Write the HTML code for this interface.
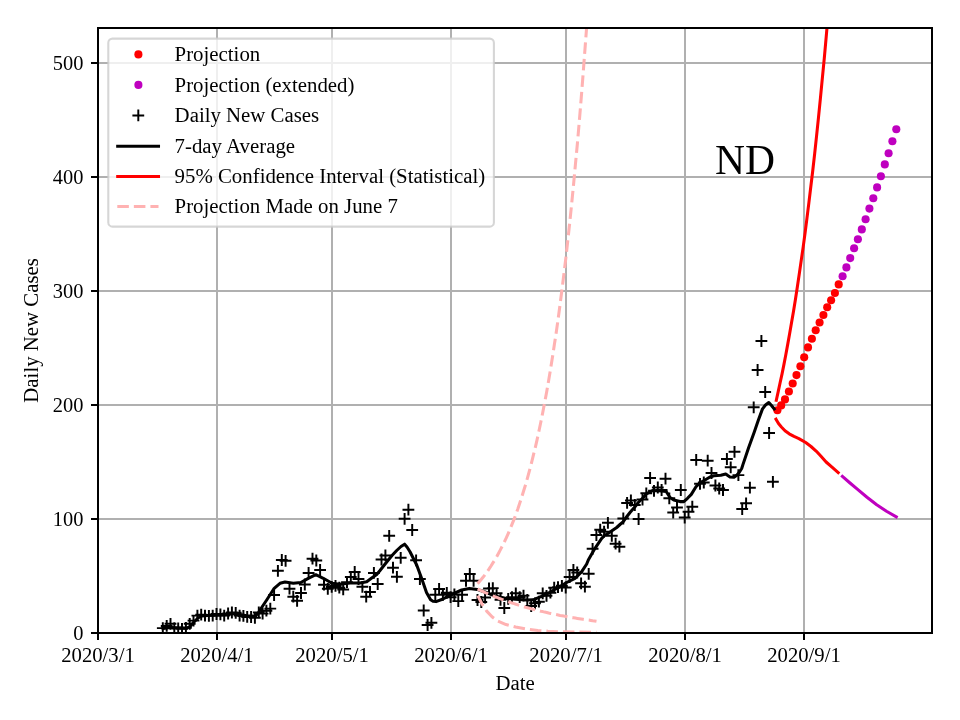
<!DOCTYPE html>
<html lang="en"><head><meta charset="utf-8"><title>ND Daily New Cases</title>
<style>html,body{margin:0;padding:0;background:#fff;overflow:hidden}svg{display:block}text{font-family:"Liberation Serif","Times New Roman",Times,serif;fill:#000}</style></head><body>
<svg width="960" height="720" viewBox="0 0 960 720">
<rect x="0" y="0" width="960" height="720" fill="#fff"/>
<g stroke="#b0b0b0" stroke-width="2" fill="none">
<line x1="98" y1="28" x2="98" y2="633"/>
<line x1="217" y1="28" x2="217" y2="633"/>
<line x1="332" y1="28" x2="332" y2="633"/>
<line x1="451" y1="28" x2="451" y2="633"/>
<line x1="566" y1="28" x2="566" y2="633"/>
<line x1="685" y1="28" x2="685" y2="633"/>
<line x1="804" y1="28" x2="804" y2="633"/>
<line x1="98" y1="633" x2="932" y2="633"/>
<line x1="98" y1="519" x2="932" y2="519"/>
<line x1="98" y1="405" x2="932" y2="405"/>
<line x1="98" y1="291" x2="932" y2="291"/>
<line x1="98" y1="177" x2="932" y2="177"/>
<line x1="98" y1="63" x2="932" y2="63"/>
</g>
<clipPath id="ax"><rect x="98" y="28" width="834" height="605"/></clipPath>
<g clip-path="url(#ax)">
<g fill="#ff0000">
<circle cx="777.4" cy="410.3" r="4.05"/>
<circle cx="781.2" cy="405.4" r="4.05"/>
<circle cx="785.0" cy="399.4" r="4.05"/>
<circle cx="788.9" cy="391.5" r="4.05"/>
<circle cx="792.7" cy="383.5" r="4.05"/>
<circle cx="796.5" cy="375.1" r="4.05"/>
<circle cx="800.4" cy="366.25" r="4.05"/>
<circle cx="804.2" cy="357.2" r="4.05"/>
<circle cx="808.0" cy="347.4" r="4.05"/>
<circle cx="811.9" cy="338.8" r="4.05"/>
<circle cx="815.7" cy="330.3" r="4.05"/>
<circle cx="819.6" cy="322.5" r="4.05"/>
<circle cx="823.4" cy="315.0" r="4.05"/>
<circle cx="827.2" cy="307.3" r="4.05"/>
<circle cx="831.1" cy="300.2" r="4.05"/>
<circle cx="834.9" cy="293.0" r="4.05"/>
<circle cx="838.7" cy="284.4" r="4.05"/>
</g><g fill="#bf00bf">
<circle cx="842.6" cy="276.2" r="4.05"/>
<circle cx="846.4" cy="267.4" r="4.05"/>
<circle cx="850.2" cy="258.1" r="4.05"/>
<circle cx="854.1" cy="248.2" r="4.05"/>
<circle cx="857.9" cy="239.3" r="4.05"/>
<circle cx="861.8" cy="229.4" r="4.05"/>
<circle cx="865.6" cy="219.2" r="4.05"/>
<circle cx="869.4" cy="208.6" r="4.05"/>
<circle cx="873.3" cy="198.3" r="4.05"/>
<circle cx="877.1" cy="187.4" r="4.05"/>
<circle cx="880.9" cy="176.2" r="4.05"/>
<circle cx="884.8" cy="164.4" r="4.05"/>
<circle cx="888.6" cy="153.3" r="4.05"/>
<circle cx="892.4" cy="141.3" r="4.05"/>
<circle cx="896.3" cy="129.3" r="4.05"/>
</g>
<path d="M156.9 628.1h11.8M162.8 622.2v11.8M160.8 625.9h11.8M166.7 620.0v11.8M164.6 623.8h11.8M170.5 617.9v11.8M168.4 628.1h11.8M174.3 622.2v11.8M172.3 628.5h11.8M178.2 622.6v11.8M176.1 628.8h11.8M182.0 622.9v11.8M180.0 627.8h11.8M185.9 621.9v11.8M183.8 623.8h11.8M189.7 617.9v11.8M187.6 620.6h11.8M193.5 614.7v11.8M191.5 615.6h11.8M197.4 609.7v11.8M195.3 614.6h11.8M201.2 608.7v11.8M199.1 615.6h11.8M205.0 609.7v11.8M203.0 615.8h11.8M208.9 609.9v11.8M206.8 615.6h11.8M212.7 609.7v11.8M210.6 614.0h11.8M216.5 608.1v11.8M214.5 614.4h11.8M220.4 608.5v11.8M218.3 615.6h11.8M224.2 609.7v11.8M222.2 613.5h11.8M228.1 607.6v11.8M226.0 612.5h11.8M231.9 606.6v11.8M229.8 612.8h11.8M235.7 606.9v11.8M233.7 615.6h11.8M239.6 609.7v11.8M237.5 615.9h11.8M243.4 610.0v11.8M241.3 616.9h11.8M247.2 611.0v11.8M245.2 617.0h11.8M251.1 611.1v11.8M249.0 617.8h11.8M254.9 611.9v11.8M252.9 612.5h11.8M258.8 606.6v11.8M256.7 613.6h11.8M262.6 607.7v11.8M260.5 610.7h11.8M266.4 604.8v11.8M264.4 608.6h11.8M270.3 602.7v11.8M268.2 595.0h11.8M274.1 589.1v11.8M272.0 570.8h11.8M277.9 564.9v11.8M275.9 560.0h11.8M281.8 554.1v11.8M279.7 560.8h11.8M285.6 554.9v11.8M283.6 588.7h11.8M289.5 582.8v11.8M287.4 596.7h11.8M293.3 590.8v11.8M291.2 600.8h11.8M297.1 594.9v11.8M295.1 593.0h11.8M301.0 587.1v11.8M298.9 584.5h11.8M304.8 578.6v11.8M302.7 573.0h11.8M308.6 567.1v11.8M306.6 558.7h11.8M312.5 552.8v11.8M310.4 560.5h11.8M316.3 554.6v11.8M314.2 570.0h11.8M320.1 564.1v11.8M318.1 584.7h11.8M324.0 578.8v11.8M321.9 588.8h11.8M327.8 582.9v11.8M325.8 586.9h11.8M331.7 581.0v11.8M329.6 585.8h11.8M335.5 579.9v11.8M333.4 587.7h11.8M339.3 581.8v11.8M337.3 589.4h11.8M343.2 583.5v11.8M341.1 582.1h11.8M347.0 576.2v11.8M344.9 576.9h11.8M350.8 571.0v11.8M348.8 571.9h11.8M354.7 566.0v11.8M352.6 579.0h11.8M358.5 573.1v11.8M356.5 586.8h11.8M362.4 580.9v11.8M360.3 596.7h11.8M366.2 590.8v11.8M364.1 591.9h11.8M370.0 586.0v11.8M368.0 572.9h11.8M373.9 567.0v11.8M371.8 584.0h11.8M377.7 578.1v11.8M375.6 559.5h11.8M381.5 553.6v11.8M379.5 555.4h11.8M385.4 549.5v11.8M383.3 535.8h11.8M389.2 529.9v11.8M387.1 567.7h11.8M393.0 561.8v11.8M391.0 576.8h11.8M396.9 570.9v11.8M394.8 557.8h11.8M400.7 551.9v11.8M398.7 518.8h11.8M404.6 512.9v11.8M402.5 509.7h11.8M408.4 503.8v11.8M406.3 530.0h11.8M412.2 524.1v11.8M410.2 560.3h11.8M416.1 554.4v11.8M414.0 579.0h11.8M419.9 573.1v11.8M417.8 610.5h11.8M423.7 604.6v11.8M421.7 625.0h11.8M427.6 619.1v11.8M425.5 622.8h11.8M431.4 616.9v11.8M429.4 594.8h11.8M435.3 588.9v11.8M433.2 588.9h11.8M439.1 583.0v11.8M437.0 594.8h11.8M442.9 588.9v11.8M440.9 592.8h11.8M446.8 586.9v11.8M444.7 597.2h11.8M450.6 591.3v11.8M448.5 594.4h11.8M454.4 588.5v11.8M452.4 601.1h11.8M458.3 595.2v11.8M456.2 594.8h11.8M462.1 588.9v11.8M460.1 580.8h11.8M466.0 574.9v11.8M463.9 573.9h11.8M469.8 568.0v11.8M467.7 580.8h11.8M473.6 574.9v11.8M471.6 600.0h11.8M477.5 594.1v11.8M475.4 602.0h11.8M481.3 596.1v11.8M479.2 597.5h11.8M485.1 591.6v11.8M483.1 588.5h11.8M489.0 582.6v11.8M486.9 588.1h11.8M492.8 582.2v11.8M490.7 593.3h11.8M496.6 587.4v11.8M494.6 599.8h11.8M500.5 593.9v11.8M498.4 608.0h11.8M504.3 602.1v11.8M502.3 598.9h11.8M508.2 593.0v11.8M506.1 597.2h11.8M512.0 591.3v11.8M509.9 593.3h11.8M515.8 587.4v11.8M513.8 597.2h11.8M519.7 591.3v11.8M517.6 595.6h11.8M523.5 589.7v11.8M521.4 600.0h11.8M527.3 594.1v11.8M525.3 606.0h11.8M531.2 600.1v11.8M529.1 603.3h11.8M535.0 597.4v11.8M533.0 601.7h11.8M538.9 595.8v11.8M536.8 593.3h11.8M542.7 587.4v11.8M540.6 595.8h11.8M546.5 589.9v11.8M544.5 592.7h11.8M550.4 586.8v11.8M548.3 587.7h11.8M554.2 581.8v11.8M552.1 587.2h11.8M558.0 581.3v11.8M556.0 585.8h11.8M561.9 579.9v11.8M559.8 587.5h11.8M565.7 581.6v11.8M563.7 577.0h11.8M569.6 571.1v11.8M567.5 570.0h11.8M573.4 564.1v11.8M571.3 572.5h11.8M577.2 566.6v11.8M575.2 583.3h11.8M581.1 577.4v11.8M579.0 586.7h11.8M584.9 580.8v11.8M582.8 573.8h11.8M588.7 567.9v11.8M586.7 548.8h11.8M592.6 542.9v11.8M590.5 535.0h11.8M596.4 529.1v11.8M594.3 529.7h11.8M600.2 523.8v11.8M598.2 531.7h11.8M604.1 525.8v11.8M602.0 522.8h11.8M607.9 516.9v11.8M605.9 535.8h11.8M611.8 529.9v11.8M609.7 543.7h11.8M615.6 537.8v11.8M613.5 546.7h11.8M619.4 540.8v11.8M617.4 518.5h11.8M623.3 512.6v11.8M621.2 502.9h11.8M627.1 497.0v11.8M625.0 500.5h11.8M630.9 494.6v11.8M628.9 505.0h11.8M634.8 499.1v11.8M632.7 519.0h11.8M638.6 513.1v11.8M636.6 499.5h11.8M642.5 493.6v11.8M640.4 493.3h11.8M646.3 487.4v11.8M644.2 478.0h11.8M650.1 472.1v11.8M648.1 490.8h11.8M654.0 484.9v11.8M651.9 487.5h11.8M657.8 481.6v11.8M655.7 490.0h11.8M661.6 484.1v11.8M659.6 478.7h11.8M665.5 472.8v11.8M663.4 498.3h11.8M669.3 492.4v11.8M667.3 512.5h11.8M673.2 506.6v11.8M671.1 507.5h11.8M677.0 501.6v11.8M674.9 490.0h11.8M680.8 484.1v11.8M678.8 517.5h11.8M684.7 511.6v11.8M682.6 511.7h11.8M688.5 505.8v11.8M686.4 506.7h11.8M692.3 500.8v11.8M690.3 459.9h11.8M696.2 454.0v11.8M694.1 483.8h11.8M700.0 477.9v11.8M697.9 482.5h11.8M703.8 476.6v11.8M701.8 460.7h11.8M707.7 454.8v11.8M705.6 473.0h11.8M711.5 467.1v11.8M709.5 485.5h11.8M715.4 479.6v11.8M713.3 488.5h11.8M719.2 482.6v11.8M717.1 490.0h11.8M723.0 484.1v11.8M721.0 459.0h11.8M726.9 453.1v11.8M724.8 467.3h11.8M730.7 461.4v11.8M728.6 451.8h11.8M734.5 445.9v11.8M732.5 475.1h11.8M738.4 469.2v11.8M736.3 509.0h11.8M742.2 503.1v11.8M740.2 503.3h11.8M746.1 497.4v11.8M744.0 487.7h11.8M749.9 481.8v11.8M747.8 407.3h11.8M753.7 401.4v11.8M751.7 370.0h11.8M757.6 364.1v11.8M755.5 341.0h11.8M761.4 335.1v11.8M759.3 392.0h11.8M765.2 386.1v11.8M763.2 433.0h11.8M769.1 427.1v11.8M767.0 481.8h11.8M772.9 475.9v11.8" stroke="#000" stroke-width="1.95" fill="none" stroke-linecap="butt"/>
<polyline points="163,628.6 170,627.4 178,627.8 186,628.3 190,626.6 194,622 198,618 202,616 210,615.3 220,615 228,614.5 234,613.5 240,614.5 248,616 255,616 258,613.5 260,610 266.7,600 274.2,588.3 280,583.3 285,582 293.3,583.3 300.8,582.5 308.3,578.3 315.8,574.7 323.3,578.3 332,583.3 340,584.2 350,583 360,583 366.7,581.7 371.7,578 376.7,574.5 380,570.5 386.7,562 392,555.5 396.7,550.5 401,546.5 404.6,544.2 407,547 410,551.7 416.7,565 421.5,578 426.5,592.6 430.6,599.8 433,601.3 436,601.6 443,599 451.7,594.5 461.7,590 469.4,588.4 477.2,589.4 482,591 487.2,592.8 495,596 504.4,598 515,599.3 526.7,600 533,599.8 541,596.7 546,594.3 550,592.3 555,589.3 560,586.5 566.7,582.5 575,578.3 577.8,575.6 581.7,571.7 586.7,564 588.3,560 595,548.3 601.7,538.3 604.4,535.6 608.3,533.3 616.7,527.5 620,524.5 623.3,521.7 626.7,516.7 630,512.5 635,506.7 638.3,502.5 643.3,497.5 646.3,493.9 652.5,490.6 658.8,490.8 666.2,491.5 670,497.5 673.8,500 680,501.6 683.8,501.6 687.5,498.3 691.3,494.4 696.3,486.3 700,482.8 705,480 710,477 713.9,475.8 720.8,475.3 725.7,474 727.5,475.3 729.9,476.9 734,477.2 736.5,475.5 738.9,472.8 741.7,468.5 743,464.4 748.6,447.7 754.2,432.3 758.3,420.2 762.5,408.9 765.5,405 768.8,402.5 771.5,405.5 774.2,408.9" stroke="#000" stroke-width="3.05" fill="none" stroke-linejoin="round" stroke-linecap="square"/>
<polyline points="776.3,400.3 778.2,391.7 780.1,382.8 782.1,373.6 784.0,364.1 785.9,354.2 787.8,343.9 789.7,333.3 791.6,322.2 793.6,310.8 795.5,298.9 797.4,286.6 799.3,273.8 801.2,260.6 803.2,246.9 805.1,232.7 807.0,217.9 808.9,202.6 810.8,186.8 812.8,170.3 814.7,153.3 816.6,135.6 818.5,117.3 820.4,98.3 822.3,78.6 824.3,58.1 826.2,36.9 828.1,15.0 830.0,-7.8" stroke="#ff0000" stroke-width="3.05" fill="none" stroke-linejoin="round" stroke-linecap="square"/>
<polyline points="776,419.2 778.5,423.5 781.4,427 785,430.7 789.2,433.8 794,436.4 798.9,438.6 805.7,442.5 811,446.5 816.4,451.3 821,456.3 826.1,462 832,467.2 838.2,472.6" stroke="#ff0000" stroke-width="3.05" fill="none" stroke-linejoin="round" stroke-linecap="square"/>
<polyline points="842.4,476.4 850,483 857.3,489.2 867,497.2 876.7,504.8 886.5,511.2 896.3,516.9" stroke="#bf00bf" stroke-width="3.05" fill="none" stroke-linejoin="round" stroke-linecap="square"/>
<polyline points="477.6,583.8 479.5,581.5 481.4,579.2 483.4,576.8 485.3,574.3 487.2,571.6 489.1,568.9 491.0,566.0 492.9,562.9 494.9,559.8 496.8,556.5 498.7,553.0 500.6,549.4 502.5,545.7 504.5,541.7 506.4,537.6 508.3,533.3 510.2,528.8 512.1,524.1 514.1,519.2 516.0,514.0 517.9,508.7 519.8,503.0 521.7,497.2 523.6,491.0 525.6,484.6 527.5,477.9 529.4,470.9 531.3,463.6 533.2,455.9 535.2,447.9 537.1,439.6 539.0,430.8 540.9,421.7 542.8,412.2 544.7,402.2 546.7,391.8 548.6,380.8 550.5,369.5 552.4,357.5 554.3,345.1 556.3,332.1 558.2,318.5 560.1,304.2 562.0,289.4 563.9,273.9 565.9,257.6 567.8,240.6 569.7,222.9 571.6,204.4 573.5,185.0 575.4,164.7 577.4,143.5 579.3,121.4 581.2,98.3 583.1,74.1 585.0,48.8 587.0,22.4 588.9,-5.2" stroke="#ffb2b2" stroke-width="3.05" fill="none" stroke-dasharray="11.56 5" stroke-linejoin="round"/>
<polyline points="477.6,589.0 479.5,589.9 481.4,590.8 483.4,591.7 485.3,592.6 487.2,593.4 489.1,594.3 491.0,595.1 492.9,595.9 494.9,596.7 496.8,597.4 498.7,598.2 500.6,598.9 502.5,599.6 504.5,600.3 506.4,601.0 508.3,601.7 510.2,602.4 512.1,603.0 514.1,603.6 516.0,604.3 517.9,604.9 519.8,605.5 521.7,606.0 523.6,606.6 525.6,607.2 527.5,607.7 529.4,608.2 531.3,608.8 533.2,609.3 535.2,609.8 537.1,610.2 539.0,610.7 540.9,611.2 542.8,611.6 544.7,612.1 546.7,612.5 548.6,613.0 550.5,613.4 552.4,613.8 554.3,614.2 556.3,614.6 558.2,615.0 560.1,615.4 562.0,615.7 563.9,616.1 565.9,616.4 567.8,616.8 569.7,617.1 571.6,617.5 573.5,617.8 575.4,618.1 577.4,618.4 579.3,618.7 581.2,619.0 583.1,619.3 585.0,619.6 587.0,619.9 588.9,620.1 590.8,620.4 592.7,620.7 594.6,620.9 596.5,621.2" stroke="#ffb2b2" stroke-width="3.05" fill="none" stroke-dasharray="11.56 5" stroke-linejoin="round"/>
<polyline points="477.8,595.6 482.0,604.0 486.7,611.1 492.0,616.8 497.8,621.1 506.0,624.6 515.6,627.1 526.0,629.0 537.8,630.4 548.0,631.2 560.0,631.8 575.0,632.1 596.5,632.3" stroke="#ffb2b2" stroke-width="3.05" fill="none" stroke-dasharray="11.56 5" stroke-linejoin="round"/>
</g>
<rect x="98" y="28" width="834" height="605" fill="none" stroke="#000" stroke-width="2"/>
<g stroke="#000" stroke-width="2">
<line x1="98" y1="633" x2="98" y2="640"/>
<line x1="217" y1="633" x2="217" y2="640"/>
<line x1="332" y1="633" x2="332" y2="640"/>
<line x1="451" y1="633" x2="451" y2="640"/>
<line x1="566" y1="633" x2="566" y2="640"/>
<line x1="685" y1="633" x2="685" y2="640"/>
<line x1="804" y1="633" x2="804" y2="640"/>
<line x1="98" y1="633" x2="91" y2="633"/>
<line x1="98" y1="519" x2="91" y2="519"/>
<line x1="98" y1="405" x2="91" y2="405"/>
<line x1="98" y1="291" x2="91" y2="291"/>
<line x1="98" y1="177" x2="91" y2="177"/>
<line x1="98" y1="63" x2="91" y2="63"/>
</g>
<g font-size="20.7px" text-anchor="middle">
<text x="98.00" y="661.8">2020/3/1</text>
<text x="216.95" y="661.8">2020/4/1</text>
<text x="332.06" y="661.8">2020/5/1</text>
<text x="451.00" y="661.8">2020/6/1</text>
<text x="566.11" y="661.8">2020/7/1</text>
<text x="685.06" y="661.8">2020/8/1</text>
<text x="804.01" y="661.8">2020/9/1</text>
</g>
<text x="515.2" y="689.5" font-size="20.83px" text-anchor="middle">Date</text>
<g font-size="20.4px" text-anchor="end">
<text x="83.4" y="639.85">0</text>
<text x="83.4" y="525.90">100</text>
<text x="83.4" y="411.95">200</text>
<text x="83.4" y="298.00">300</text>
<text x="83.4" y="184.05">400</text>
<text x="83.4" y="70.10">500</text>
</g>
<text font-size="20.83px" text-anchor="middle" transform="translate(38.2 330.4) rotate(-90)">Daily New Cases</text>
<text x="715.0" y="174" font-size="41.5px">ND</text>
<rect x="108.3" y="38.6" width="385.6" height="188" rx="4.2" ry="4.2" fill="#fff" fill-opacity="0.8" stroke="#ccc" stroke-opacity="0.8" stroke-width="2.08"/>
<circle cx="138.4" cy="54.4" r="4.05" fill="#ff0000"/>
<circle cx="138.4" cy="84.9" r="4.05" fill="#bf00bf"/>
<path d="M132.4 115.4h11.8M138.3 109.5v11.8" stroke="#000" stroke-width="1.95" fill="none"/>
<line x1="117.7" y1="146.2" x2="158.5" y2="146.2" stroke="#000" stroke-width="3.05" stroke-linecap="square"/>
<line x1="117.7" y1="176.4" x2="158.5" y2="176.4" stroke="#ff0000" stroke-width="3.05" stroke-linecap="square"/>
<line x1="117.3" y1="206.5" x2="158.5" y2="206.5" stroke="#ffb2b2" stroke-width="3.05" stroke-dasharray="11.56 5"/>
<g font-size="20.83px">
<text x="174.6" y="61.30">Projection</text>
<text x="174.6" y="91.80">Projection (extended)</text>
<text x="174.6" y="122.30">Daily New Cases</text>
<text x="174.6" y="153.10">7-day Average</text>
<text x="174.6" y="183.30">95% Confidence Interval (Statistical)</text>
<text x="174.6" y="213.40">Projection Made on June 7</text>
</g>
</svg></body></html>
